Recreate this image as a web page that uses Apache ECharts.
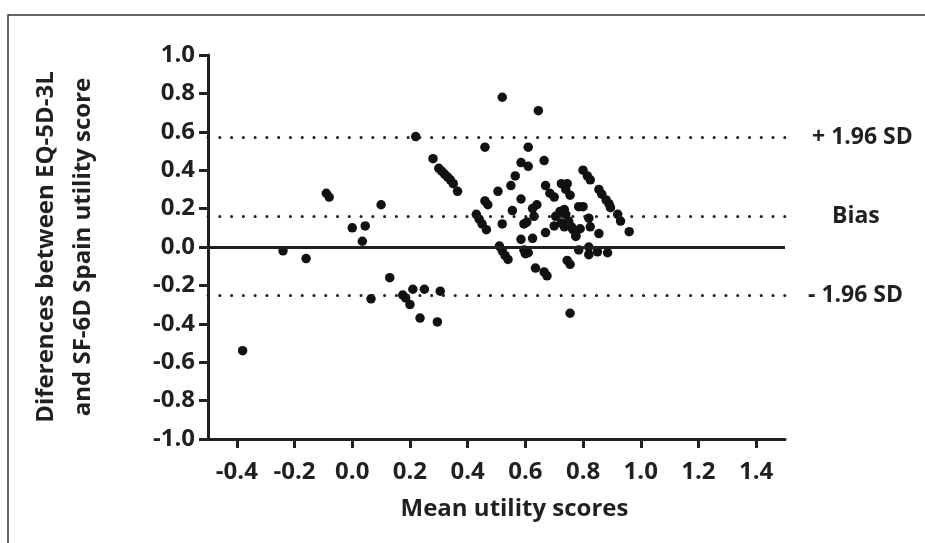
<!DOCTYPE html>
<html>
<head>
<meta charset="utf-8">
<script src="https://cdn.jsdelivr.net/npm/echarts@6/dist/echarts.min.js"></script>
<style>
  html, body { margin: 0; padding: 0; background: #fff; }
  #chart { width: 925px; height: 543px; }
</style>
</head>
<body>
<div id="chart"></div>
<script>
// Bland-Altman: mean utility vs difference
var points = [
  [-0.38, -0.54], [-0.24, -0.02], [-0.16, -0.06], [-0.09, 0.28], [-0.08, 0.26],
  [0.00, 0.10], [0.045, 0.11], [0.035, 0.03], [0.10, 0.22], [0.065, -0.27],
  [0.13, -0.16], [0.175, -0.25], [0.185, -0.265], [0.20, -0.30], [0.21, -0.22],
  [0.25, -0.22], [0.235, -0.37], [0.295, -0.39], [0.305, -0.23], [0.22, 0.575],
  [0.28, 0.46], [0.30, 0.41], [0.31, 0.395], [0.32, 0.38], [0.33, 0.365],
  [0.34, 0.35], [0.35, 0.33], [0.365, 0.29], [0.52, 0.78], [0.645, 0.71],
  [0.46, 0.52], [0.61, 0.52], [0.585, 0.44], [0.61, 0.42], [0.665, 0.45],
  [0.565, 0.37], [0.55, 0.32], [0.505, 0.29], [0.585, 0.25], [0.46, 0.24],
  [0.47, 0.22], [0.43, 0.17], [0.44, 0.145], [0.45, 0.12], [0.465, 0.09],
  [0.52, 0.12], [0.555, 0.19], [0.595, 0.12], [0.605, 0.13], [0.625, 0.20],
  [0.64, 0.22], [0.63, 0.16], [0.67, 0.32], [0.685, 0.28], [0.70, 0.26],
  [0.725, 0.33], [0.745, 0.33], [0.74, 0.30], [0.755, 0.27], [0.705, 0.16],
  [0.72, 0.185], [0.735, 0.195], [0.74, 0.17], [0.70, 0.11], [0.725, 0.125],
  [0.735, 0.105], [0.75, 0.135], [0.765, 0.09], [0.775, 0.06], [0.785, 0.21],
  [0.80, 0.21], [0.79, 0.095], [0.82, 0.15], [0.825, 0.105], [0.80, 0.40],
  [0.815, 0.37], [0.825, 0.35], [0.855, 0.30], [0.865, 0.275], [0.88, 0.245],
  [0.89, 0.225], [0.895, 0.205], [0.92, 0.17], [0.93, 0.135], [0.855, 0.07],
  [0.96, 0.08], [0.67, 0.075], [0.585, 0.04], [0.625, 0.045], [0.595, -0.015],
  [0.61, -0.03], [0.60, -0.035], [0.51, 0.005], [0.52, -0.02], [0.53, -0.045],
  [0.54, -0.065], [0.635, -0.11], [0.665, -0.13], [0.675, -0.15], [0.745, -0.07],
  [0.755, -0.09], [0.785, -0.015], [0.82, 0.00], [0.82, -0.04], [0.85, -0.025],
  [0.885, -0.03], [0.755, -0.345], [0.775, 0.055], [0.76, 0.105]
];
var xTicks = [-0.4, -0.2, 0.0, 0.2, 0.4, 0.6, 0.8, 1.0, 1.2, 1.4];
var limitNames = ['+ 1.96 SD', 'Bias', '- 1.96 SD'];
var limitValues = [0.573, 0.163, -0.248];
var limitLabelGap = [27, 47, 23];

var ink = '#231f20';
var font = 'Open Sans';

var dotted = { color: ink, width: 3, type: [0.1, 11.67], cap: 'round' };

var lines = [{ yAxis: 0, lineStyle: { color: ink, width: 3, type: 'solid' }, label: { show: false } }];
limitValues.forEach(function (v, i) {
  lines.push({
    yAxis: v,
    lineStyle: dotted,
    label: {
      show: true, position: 'end', distance: limitLabelGap[i],
      formatter: limitNames[i], color: ink, fontFamily: font,
      fontWeight: 'bold', fontSize: 23
    }
  });
});

var chart = echarts.init(document.getElementById('chart'));
chart.setOption({
  animation: false,
  backgroundColor: '#fff',
  graphic: [{
    type: 'rect', silent: true, z: -1,
    shape: { x: 8, y: 15, width: 1000, height: 1000 },
    style: { fill: null, stroke: '#333', lineWidth: 1.5 }
  }],
  grid: { left: 208, right: 140, top: 55, bottom: 104 },
  xAxis: {
    type: 'value', min: -0.5, max: 1.5,
    name: 'Mean utility scores', nameLocation: 'middle', nameGap: 58,
    nameTextStyle: { color: ink, fontFamily: font, fontWeight: 'bold', fontSize: 24, padding: [0, 0, 0, 36] },
    splitLine: { show: false },
    axisLine: { onZero: false, lineStyle: { color: ink, width: 3 } },
    axisTick: { show: true, customValues: xTicks, length: 9, lineStyle: { color: ink, width: 3 } },
    axisLabel: {
      customValues: xTicks, margin: 21, color: ink, fontFamily: font, fontWeight: 'bold', fontSize: 24,
      formatter: function (v) { return v.toFixed(1); }
    }
  },
  yAxis: {
    type: 'value', min: -1, max: 1, interval: 0.2,
    name: 'Diferences between EQ-5D-3L\nand SF-6D Spain utility score',
    nameLocation: 'middle', nameGap: 106,
    nameTextStyle: { color: ink, fontFamily: font, fontWeight: 'bold', fontSize: 24, lineHeight: 37 },
    splitLine: { show: false },
    axisLine: { onZero: false, lineStyle: { color: ink, width: 3 } },
    axisTick: { length: 9, lineStyle: { color: ink, width: 3 } },
    axisLabel: {
      margin: 13, color: ink, fontFamily: font, fontWeight: 'bold', fontSize: 24,
      formatter: function (v) { return v.toFixed(1); }
    }
  },
  series: [{
    type: 'scatter',
    data: points,
    symbolSize: 9.5,
    itemStyle: { color: '#111', opacity: 1 },
    markLine: {
      silent: true, symbol: 'none', animation: false,
      data: lines
    }
  }]
});
</script>
</body>
</html>
